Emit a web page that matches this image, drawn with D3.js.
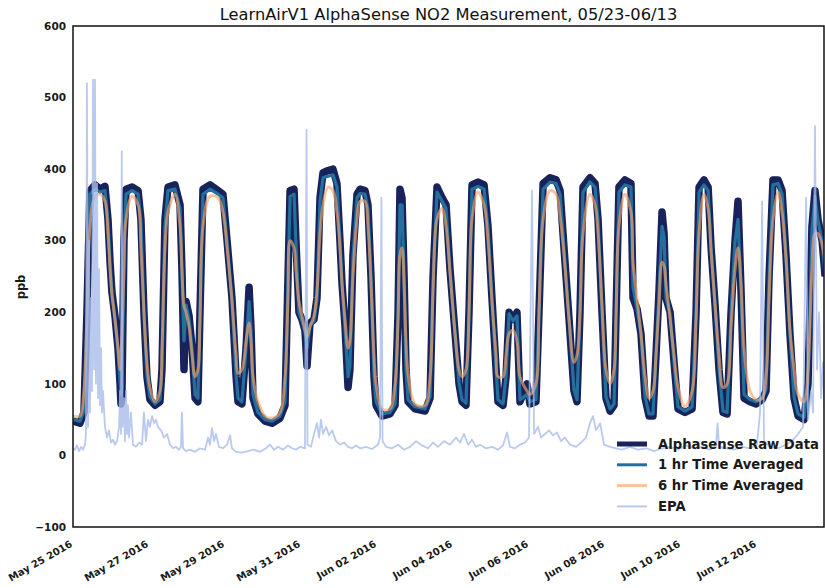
<!DOCTYPE html>
<html><head><meta charset="utf-8">
<script src="https://cdn.jsdelivr.net/npm/d3@7"></script>
<style>body{margin:0;background:#fff;} svg{display:block;font-family:"DejaVu Sans",sans-serif;}</style>
</head><body><svg id="c" width="825" height="588"></svg>
<script>
const chartTitle = "LearnAirV1 AlphaSense NO2 Measurement, 05/23-06/13";
const yLabel = "ppb";
const seriesNames = ["Alphasense Raw Data", "1 hr Time Averaged", "6 hr Time Averaged", "EPA"];
const yTicks = [-100, 0, 100, 200, 300, 400, 500, 600];
const xTickDates = ["2016-05-25","2016-05-27","2016-05-29","2016-05-31","2016-06-02","2016-06-04","2016-06-06","2016-06-08","2016-06-10","2016-06-12"];
const xTickLabels = ["May 25 2016","May 27 2016","May 29 2016","May 31 2016","Jun 02 2016","Jun 04 2016","Jun 06 2016","Jun 08 2016","Jun 10 2016","Jun 12 2016"];
const startHourSpan = 474.3; // hours shown from May 25 00:00

// hours since 2016-05-25 00:00
const sensorHours = [0,4.4,6.9,8.8,10.7,13.9,17.1,20.2,22.1,23.4,
24.6,26.5,28.4,29.7,30.3,30.9,32.2,33.5,37.3,41.1,
42.9,44.8,46.7,48.6,51.8,54.9,56.2,58.1,60.0,64.4,
67.6,68.8,70.1,71.4,73.3,75.2,77.1,78.9,80.2,82.1,
86.5,91.6,94.7,97.3,100.4,103.0,104.2,106.7,109.3,111.2,
112.4,113.7,116.8,121.3,125.7,130.7,133.9,135.8,137.1,139.6,
140.8,142.7,144.6,146.5,147.8,149.7,152.2,154.1,156.0,157.9,
161.1,164.2,166.7,168.6,169.9,171.8,173.7,174.9,176.8,179.4,
181.3,184.4,186.3,188.2,190.1,191.4,195.2,200.2,203.4,205.3,
206.5,207.8,209.1,210.3,211.6,216.0,222.3,225.5,227.4,229.9,
233.1,235.6,238.1,241.3,243.8,245.7,248.2,250.1,252.0,255.8,
259.6,262.1,264.6,267.2,268.4,271.6,273.5,275.4,277.9,280.4,
282.3,286.7,288.6,292.4,294.3,296.9,301.3,305.1,307.6,310.1,
313.3,316.4,318.3,320.2,322.1,326.5,329.7,331.6,334.1,336.6,
339.2,341.7,343.0,344.8,348.6,352.4,353.7,356.2,358.7,361.3,
363.8,366.3,368.2,370.1,372.0,373.3,374.5,377.1,379.6,382.1,
386.5,391.0,393.5,395.4,398.5,401.1,403.0,405.5,408.0,410.5,
413.1,415.6,418.1,420.0,421.9,423.8,427.6,431.4,435.2,437.7,
439.6,442.1,445.3,447.8,450.3,452.8,455.4,457.9,461.7,464.2,
466.7,468.6,470.5,473.1,475.0];

const rawValues = [48,45,60,200,370,378,372,376,330,270,
228,195,150,100,72,80,300,372,375,370,
330,200,110,78,70,75,120,330,375,378,
350,260,120,215,195,150,80,75,200,372,
378,370,365,300,220,110,75,72,150,235,
180,80,58,48,45,52,70,250,370,372,
300,200,190,175,125,185,190,220,360,395,
398,400,380,300,240,180,95,120,280,365,
372,370,350,250,110,70,55,58,70,200,
372,360,250,120,75,65,62,80,250,375,
360,350,260,170,100,75,70,200,378,382,
378,320,220,120,75,70,110,200,190,200,
75,100,72,75,200,380,388,385,370,290,
190,90,75,200,375,388,380,330,200,80,
62,70,200,375,385,380,220,205,170,80,
55,55,140,230,340,310,220,200,130,65,
60,65,200,375,385,375,290,210,120,60,
58,200,300,355,230,80,75,72,78,90,
250,385,385,370,280,170,80,55,50,100,
320,370,330,300,250];

const hr1Values = [50,48,62,195,365,372,368,370,325,268,
225,192,148,105,85,95,290,365,370,365,
325,200,112,82,72,78,125,320,370,372,
345,255,160,210,190,148,85,80,195,365,
372,365,360,298,218,112,80,75,150,215,
175,85,60,50,48,55,75,245,362,365,
295,200,188,172,150,182,188,218,355,388,
390,392,375,298,238,178,110,125,275,360,
366,365,345,248,112,75,58,60,72,198,
350,350,248,122,78,68,65,82,245,368,
355,345,258,170,102,78,73,198,372,376,
372,318,218,122,78,72,112,198,188,195,
78,85,75,78,198,372,382,380,365,288,
190,92,78,198,368,382,375,328,200,82,
65,72,198,368,378,375,235,205,170,82,
58,58,140,228,320,305,220,198,130,68,
62,68,198,368,378,370,288,210,122,62,
60,198,298,330,232,85,78,75,80,92,
245,378,380,365,278,170,82,58,53,102,
315,362,328,298,252];

const hr6Values = [55,55,90,190,320,362,365,355,310,260,
225,190,150,120,140,170,260,330,362,350,
290,200,130,95,75,90,150,290,340,365,
320,260,210,200,180,140,110,120,190,320,
362,360,340,290,215,140,115,120,160,185,
160,110,75,55,52,60,110,220,300,290,
260,215,195,175,165,180,195,230,310,350,
375,370,340,290,240,190,150,160,250,330,
355,355,320,240,140,100,65,65,100,190,
280,290,240,160,115,72,70,110,230,330,
345,320,255,170,120,110,120,200,330,368,
350,300,215,140,110,110,140,170,175,160,
110,90,85,100,200,330,370,365,335,280,
190,130,140,200,310,365,350,310,210,120,
100,120,200,320,365,340,270,220,170,110,
80,90,140,210,270,265,240,190,140,95,
68,90,190,310,365,345,285,210,140,95,
100,180,260,290,240,150,90,78,80,110,
220,330,368,340,275,175,120,85,75,120,
260,310,310,295,270];

const epaHours = [0,1.3,2.5,3.8,5.1,6.3,7.6,8.2,8.8,9.5,
10.1,10.7,11.4,12.0,12.6,13.3,13.9,14.5,15.2,15.8,
16.4,17.1,17.7,18.3,18.9,20.2,21.5,22.7,24.0,25.3,
26.5,27.8,29.1,29.7,30.3,30.8,31.3,32.2,32.8,33.5,
34.1,34.7,35.4,36.6,37.9,39.8,41.7,43.6,44.8,46.1,
47.4,48.6,49.9,51.2,52.4,53.7,55.6,57.5,59.4,61.3,
63.2,65.1,66.9,68.2,68.8,69.5,71.4,73.9,77.1,80.2,
83.4,85.3,86.5,87.8,89.1,90.3,92.2,94.7,97.3,99.2,
100.4,103.0,106.7,110.5,114.3,118.1,121.9,124.4,127.0,129.5,
132.6,135.8,138.3,140.8,143.4,146.5,147.5,148.1,150.3,152.2,
154.1,155.4,156.6,157.9,159.8,161.7,163.6,166.1,168.6,171.2,
173.7,176.2,178.7,181.3,185.1,188.8,192.6,193.9,194.8,195.5,
197.7,201.5,205.3,209.1,212.9,216.6,220.4,224.2,227.4,230.5,
234.3,238.1,241.9,244.4,247.0,249.5,252.0,254.5,257.1,260.8,
264.6,268.4,271.6,274.1,276.0,279.2,282.3,285.5,288.0,289.9,
291.2,293.7,295.6,298.1,300.6,303.2,305.7,308.2,310.7,313.9,
317.7,320.9,324.0,326.5,328.4,330.3,332.9,335.4,339.2,343.0,
346.7,351.8,356.8,361.9,366.9,372.0,377.1,382.1,387.2,392.2,
397.3,402.3,406.1,407.1,408.0,412.5,417.5,422.6,427.6,432.0,
433.9,435.2,436.4,440.2,445.3,450.3,454.1,457.9,461.1,463.0,
464.2,466.1,467.4,468.6,469.9,471.2,472.5,473.7,475.0];

const epaValues = [10,8,14,6,12,8,15,30,520,40,
300,60,220,90,525,120,525,100,380,80,
260,70,150,60,90,40,25,35,18,22,
15,20,40,90,30,425,40,80,20,90,
30,70,25,60,15,12,18,15,60,20,
50,40,55,45,50,40,35,25,30,15,
10,12,8,12,60,10,6,8,5,10,
8,25,15,38,20,30,12,10,15,28,
10,5,4,6,8,5,10,15,8,12,
8,14,10,8,12,10,455,15,12,30,
45,25,50,30,40,28,35,20,15,18,
12,10,14,10,12,9,15,25,360,20,
12,10,15,8,12,20,14,10,18,12,
20,15,25,18,30,15,22,12,15,10,
12,8,14,32,12,10,15,18,25,370,
30,40,25,30,35,28,32,20,25,15,
12,18,25,45,55,35,45,15,12,10,
8,12,8,10,6,10,12,8,14,10,
12,8,15,45,12,10,8,12,10,15,
60,355,20,12,10,15,20,30,40,360,
50,90,60,460,120,200,80,130,40];

const colors = {raw: "#18235c", hr1: "#256f9c", hr6: "#f4a468", epa: "#a9bbea"};

const svg = d3.select("#c");
const M = {left: 73, top: 26, right: 824, bottom: 527};
const base = new Date(2016, 4, 25, 0, 0);
const toDate = h => new Date(base.getTime() + h * 3600e3);
const x = d3.scaleTime().domain([base, toDate(startHourSpan)]).range([M.left, M.right]);
const y = d3.scaleLinear().domain([-100, 600]).range([M.bottom, M.top]);

svg.append("defs").append("clipPath").attr("id", "clip")
  .append("rect").attr("x", M.left).attr("y", M.top)
  .attr("width", M.right - M.left).attr("height", M.bottom - M.top);

const g = svg.append("g").attr("clip-path", "url(#clip)");
const mk = (hours, vals) => hours.map((h, i) => [toDate(h), vals[i]]).filter(d => d[1] != null);
const line = d3.line().x(d => x(d[0])).y(d => y(d[1]));
const lineSmooth = d3.line().x(d => x(d[0])).y(d => y(d[1])).curve(d3.curveCatmullRom);

g.append("path").datum(mk(sensorHours, rawValues)).attr("d", line)
  .attr("fill", "none").attr("stroke", colors.raw).attr("stroke-width", 7.5).attr("stroke-linejoin", "round");
g.append("path").datum(mk(sensorHours, hr1Values)).attr("d", line)
  .attr("fill", "none").attr("stroke", colors.hr1).attr("stroke-width", 3.2).attr("stroke-linejoin", "round");
g.append("path").datum(mk(sensorHours, hr6Values)).attr("d", lineSmooth)
  .attr("fill", "none").attr("stroke", colors.hr6).attr("stroke-opacity", 0.65).attr("stroke-width", 3).attr("stroke-linejoin", "round");
g.append("path").datum(mk(epaHours, epaValues)).attr("d", line)
  .attr("fill", "none").attr("stroke", colors.epa).attr("stroke-opacity", 0.8).attr("stroke-width", 1.8).attr("stroke-linejoin", "round");

// frame
svg.append("rect").attr("x", M.left).attr("y", M.top)
  .attr("width", M.right - M.left).attr("height", M.bottom - M.top)
  .attr("fill", "none").attr("stroke", "#111").attr("stroke-width", 1.5);

// y axis labels
svg.append("g").selectAll("text").data(yTicks).join("text")
  .attr("x", M.left - 7).attr("y", d => y(d)).attr("dy", "0.35em")
  .attr("text-anchor", "end").attr("font-size", 10.5).attr("font-weight", "bold").attr("fill", "#1a1a1a")
  .text(d => d < 0 ? "\u2212" + Math.abs(d) : d);

// x labels
svg.append("g").selectAll("text").data(xTickDates).join("text")
  .attr("transform", (d) => `translate(${x(new Date(d + "T00:00"))},546) rotate(-30)`)
  .attr("text-anchor", "end").attr("font-size", 10).attr("font-weight", "bold").attr("fill", "#1a1a1a")
  .text((d, i) => xTickLabels[i]);

// title
svg.append("text").attr("x", (M.left + M.right) / 2).attr("y", 20)
  .attr("text-anchor", "middle").attr("font-size", 16.3).attr("fill", "#111").text(chartTitle);

// y label
svg.append("text").attr("transform", "translate(25,287) rotate(-90)")
  .attr("text-anchor", "middle").attr("font-size", 11.5).attr("font-weight", "bold").attr("fill", "#1a1a1a").text(yLabel);

// legend
const legendRows = [
  {name: seriesNames[0], color: colors.raw, w: 5, op: 1},
  {name: seriesNames[1], color: colors.hr1, w: 3, op: 1},
  {name: seriesNames[2], color: colors.hr6, w: 3, op: 0.65},
  {name: seriesNames[3], color: colors.epa, w: 2, op: 0.8}
];
const lg = svg.append("g");
legendRows.forEach((r, i) => {
  const yy = 444 + i * 20.8;
  lg.append("line").attr("x1", 617).attr("x2", 647).attr("y1", yy).attr("y2", yy)
    .attr("stroke", r.color).attr("stroke-width", r.w).attr("stroke-opacity", r.op);
  lg.append("text").attr("x", 658).attr("y", yy).attr("dy", "0.35em")
    .attr("font-size", 13.2).attr("font-weight", "bold").attr("fill", "#1a1a1a").text(r.name);
});
</script></body></html>
